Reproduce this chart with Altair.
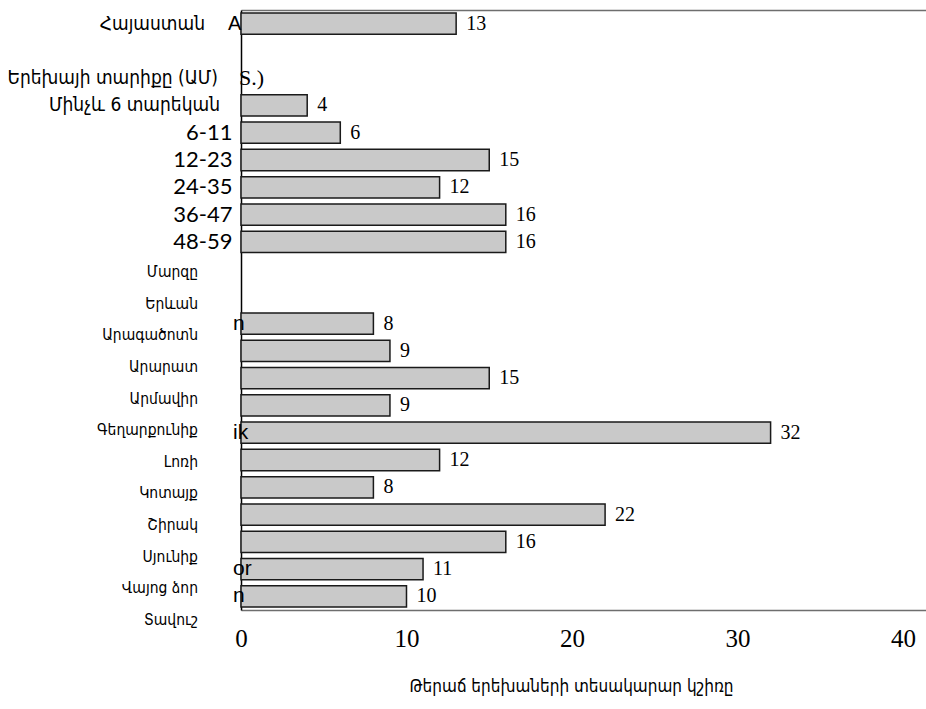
import altair as alt
import pandas as pd

# Stunting prevalence (%) among children under five
national_label = "Հայաստան"
national_value = 13

age_heading = "Երեխայի տարիքը (ԱՄ)"
age_groups = ["Մինչև 6 տարեկան", "6-11", "12-23", "24-35", "36-47", "48-59"]
age_values = [4, 6, 15, 12, 16, 16]

region_heading = "Մարզը"
regions = ["Երևան", "Արագածոտն", "Արարատ", "Արմավիր", "Գեղարքունիք", "Լոռի",
           "Կոտայք", "Շիրակ", "Սյունիք", "Վայոց ձոր", "Տավուշ"]
region_values = [8, 9, 15, 9, 32, 12, 8, 22, 16, 11, 10]

x_ticks = [0, 10, 20, 30, 40]
x_title = "Թերաճ երեխաների տեսակարար կշիռը"

# leftover tails of the English row captions
fragment_rows = [national_label, age_heading, "Երևան", "Գեղարքունիք", "Վայոց ձոր", "Տավուշ"]
fragment_text = ["A", "S.)", "n", "ik", "or", "n"]

# row order on the band scale (gap rows stay empty)
rows = [national_label, "gap1", age_heading] + age_groups + ["gap2", "gap3"] + regions

bars_df = pd.DataFrame({
    "row": [national_label] + age_groups + regions,
    "value": [national_value] + age_values + region_values,
})
top_df = pd.DataFrame({"row": [national_label, age_heading, age_groups[0]]})
region_df = pd.DataFrame({"label": [region_heading] + regions})
frag_df = pd.DataFrame({"row": fragment_rows, "text": fragment_text})

ARM = "DejaVu Sans Condensed, DejaVu Sans"
SERIF = "Liberation Serif"

x_scale = alt.Scale(domain=[0, 41.39], nice=False, zero=True)
row_scale = alt.Scale(domain=rows, paddingInner=0.22, paddingOuter=0.11)

# the numeric age bands are written by the axis itself
numeric_ages = [a for a in age_groups if a[0].isdigit()]
age_label_expr = "(" + " || ".join(f"datum.label == '{a}'" for a in numeric_ages) + ") ? datum.label : ''"

# English caption tails, drawn over the bar edges
frag_layers = []
for texts, dx, font, size in [(["A"], -13, "Liberation Sans", 20),
                              (["S.)"], -2, SERIF, 22),
                              (["n", "ik", "or"], -8, "Liberation Sans", 21)]:
    sub = frag_df[frag_df["text"].isin(texts)]
    frag_layers.append(
        alt.Chart(sub).mark_text(align="left", baseline="middle", dx=dx,
                                 font=font, fontSize=size, color="black")
        .encode(
            x=alt.XDatum(0, type="quantitative", scale=x_scale, axis=None),
            y=alt.Y("row:N", scale=row_scale, axis=None),
            text="text:N",
        )
    )

# top frame line drawn as a label-free axis
frame_top = alt.Chart(frag_df.head(1)).mark_text(text="").encode(
    x=alt.XDatum(0, type="quantitative", scale=x_scale,
                 axis=alt.Axis(orient="top", labels=False, ticks=False, grid=False,
                               domainColor="#6e6e6e", domainWidth=1.5, title=None)),
    y=alt.Y("row:N", scale=row_scale, axis=None),
)

base = alt.Chart(bars_df)
bars = base.mark_bar(fill="#c9c9c9", stroke="#1a1a1a", strokeWidth=1.5).encode(
    x=alt.X("value:Q", scale=x_scale,
            axis=alt.Axis(orient="bottom", values=x_ticks, format="d", ticks=False,
                          grid=False, domainColor="#6e6e6e", domainWidth=1.5,
                          labelFont=SERIF, labelFontSize=25, labelColor="black",
                          labelPadding=16, labelFlush=False,
                          title=x_title, titleFont=ARM, titleFontSize=17,
                          titleFontWeight="normal", titleColor="black",
                          titlePadding=27, titleX=330)),
    y=alt.Y("row:N", scale=row_scale,
            axis=alt.Axis(orient="left", ticks=False, grid=False, title=None,
                          domainColor="black", domainWidth=1.5,
                          labelExpr=age_label_expr,
                          labelFont="Lato", labelFontSize=22, labelColor="black",
                          labelPadding=9)),
)
values = base.mark_text(align="left", baseline="middle", dx=10, font=SERIF,
                        fontSize=20, color="black").encode(
    x=alt.X("value:Q", scale=x_scale, axis=None),
    y=alt.Y("row:N", scale=row_scale, axis=None),
    text=alt.Text("value:Q", format="d"),
)

# Armenian captions for the national and age rows
top_layers = []
for row_name, dx in zip(top_df["row"], [-36, -23, -21]):
    top_layers.append(
        alt.Chart(top_df[top_df["row"] == row_name]).mark_text(
            align="right", baseline="middle", dx=dx, font=ARM, fontSize=19, color="black")
        .encode(
            x=alt.XDatum(0, type="quantitative", scale=x_scale, axis=None),
            y=alt.Y("row:N", scale=row_scale, axis=None),
            text="row:N",
        )
    )

# region captions keep their own, slightly looser line spacing
region_labels = alt.Chart(region_df).mark_text(
    align="right", baseline="middle", dx=-43, font=ARM, fontSize=15.5, color="black"
).encode(
    x=alt.XDatum(0, type="quantitative", scale=x_scale, axis=None),
    y=alt.Y("label:N", sort=None,
            scale=alt.Scale(type="point", domain=[region_heading] + regions,
                            range=[262, 610], padding=0),
            axis=None),
    text="label:N",
)

chart = alt.layer(
    frame_top, bars, values, *frag_layers, *top_layers, region_labels
).resolve_scale(
    y="independent"
).resolve_axis(
    x="independent", y="independent"
).properties(
    width=685, height=600,
    autosize=alt.AutoSizeParams(type="none"),
    padding={"left": 241, "top": 10, "right": 0, "bottom": 99},
    background="white",
).configure_view(strokeWidth=0)

chart.save("out.html", embed_options={"renderer": "svg", "actions": False})
